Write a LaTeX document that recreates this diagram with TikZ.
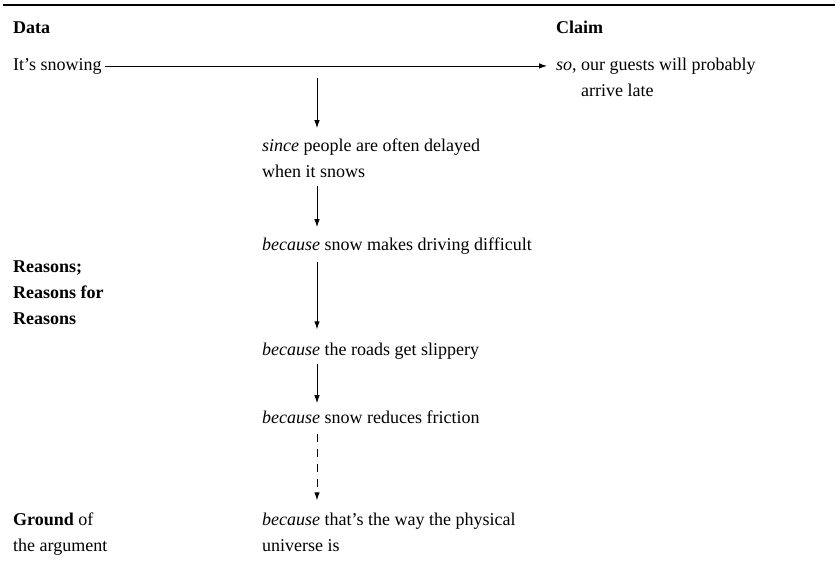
\documentclass[tikz,border=0pt]{standalone}
\usepackage{fontspec}
\setmainfont{Liberation Serif}
\usetikzlibrary{arrows.meta}

\tikzset{
  txt/.style={anchor=base west, align=left, inner sep=3pt,
    font=\fontsize{18}{26}\selectfont},
  head/.style={txt, font=\fontsize{18}{26}\selectfont\bfseries},
  arr/.style={-{Latex[length=8pt,width=5.5pt]}, line width=0.9pt},
}

\begin{document}
\begin{tikzpicture}[x=1pt,y=1pt]
\useasboundingbox (0,0) rectangle (837,-565);
% Rule
\draw [line width=1.3pt] (3,-5) -- (835,-5);
% Headings
\node (data) [head] at (10,-33) {Data};
\node (claimhead) [head] at (553,-33) {Claim};
% Data and claim (base anchor sits on the last line)
\node (snow) [txt] at (10,-70) {It's snowing};
\node (claim) [txt] at (553,-96) {\textit{so}, our guests will probably\\\hspace*{25pt}arrive late};
% Left labels
\node (reasons) [head] at (10,-324) {Reasons;\\Reasons for\\Reasons};
\node (ground) [txt] at (10,-551) {\textbf{Ground} of\\the argument};
% Chain of reasons
\node (since) [txt] at (259,-177) {\textit{since} people are often delayed\\when it snows};
\node (driving) [txt] at (259,-250) {\textit{because} snow makes driving difficult};
\node (roads) [txt] at (259,-355) {\textit{because} the roads get slippery};
\node (friction) [txt] at (259,-423) {\textit{because} snow reduces friction};
\node (universe) [txt] at (259,-551) {\textit{because} that's the way the physical\\universe is};
% Spine of the chain
\coordinate (spine) at (317,0);
% Data --> Claim
\draw [arr, shorten >=6pt] (snow.east) -- (snow.east -| claim.west);
% Vertical arrows
\draw [arr, shorten <=1pt] (spine |- snow.south) -- ([yshift=7pt]spine |- since.north);
\draw [arr, shorten <=6pt] (spine |- since.south) -- ([yshift=7pt]spine |- driving.north);
\draw [arr, shorten <=5pt] (spine |- driving.south) -- ([yshift=10pt]spine |- roads.north);
\draw [arr, shorten <=2pt] (spine |- roads.south) -- ([yshift=4pt]spine |- friction.north);
% Dashed arrow to the ground
\draw [arr, dash pattern=on 8pt off 7pt, shorten <=8pt] (spine |- friction.south) -- ([yshift=9pt]spine |- universe.north);
\end{tikzpicture}
\end{document}
